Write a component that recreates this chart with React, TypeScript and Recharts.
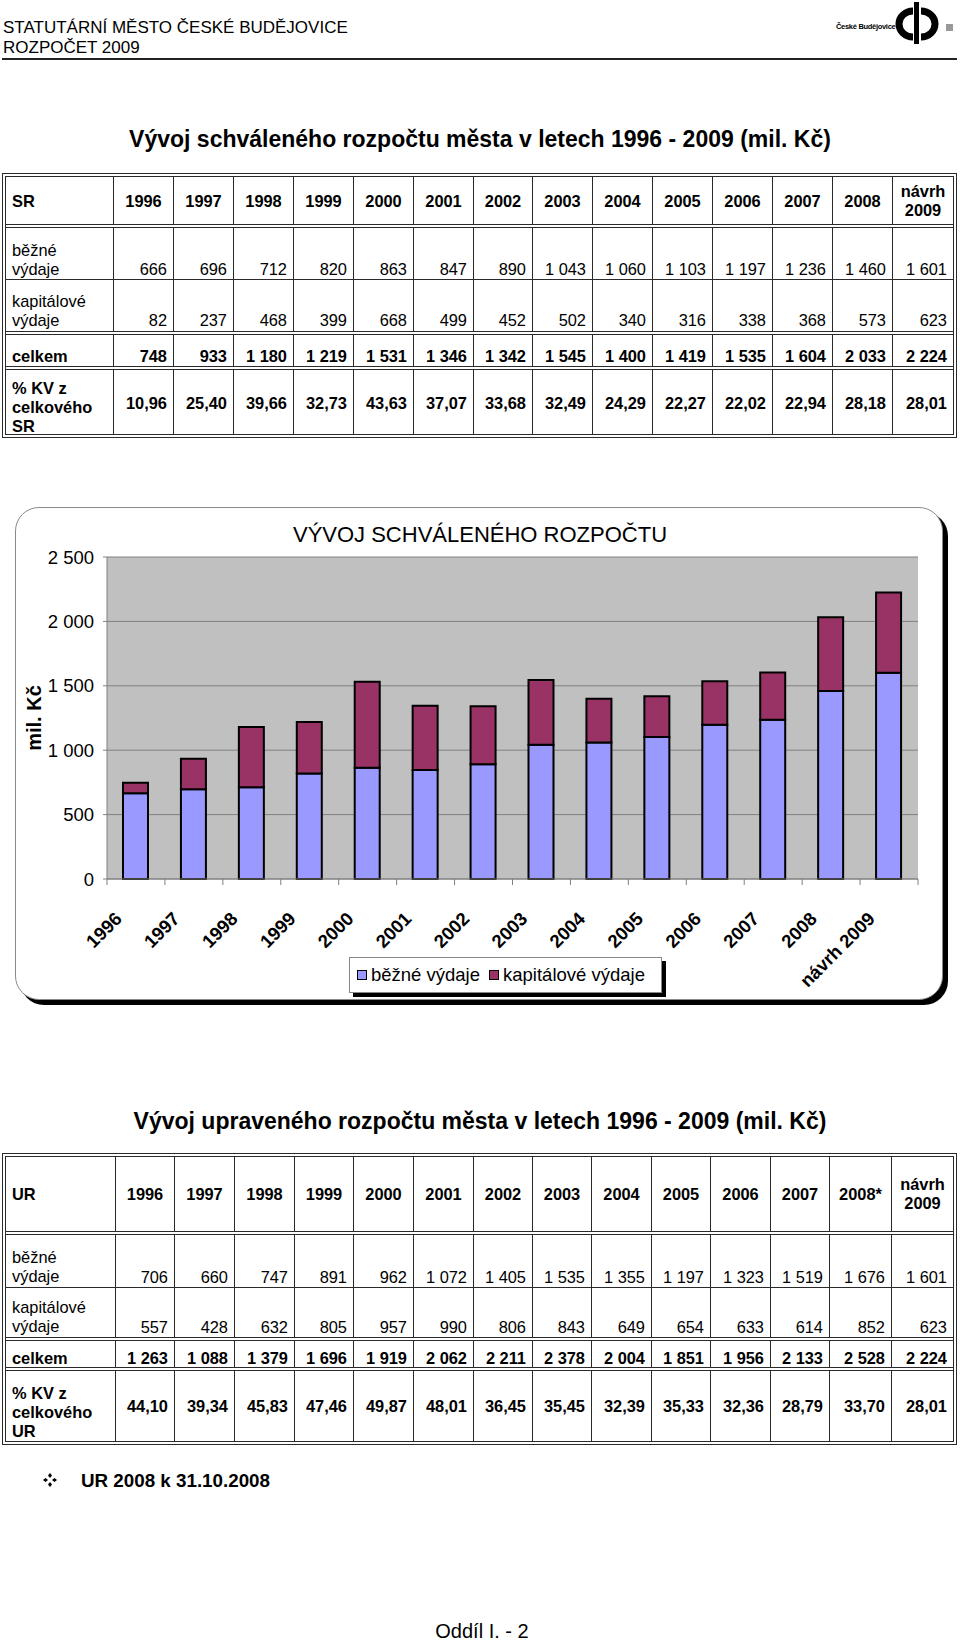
import React from 'react';
import { BarChart, Bar, XAxis, YAxis, CartesianGrid, Legend } from 'recharts';

const FONT = '"Liberation Sans", Arial, Helvetica, sans-serif';

// ---------- data ----------
const chartYears = ['1996', '1997', '1998', '1999', '2000', '2001', '2002', '2003', '2004', '2005', '2006', '2007', '2008', 'návrh 2009'];
const srBezne = [666, 696, 712, 820, 863, 847, 890, 1043, 1060, 1103, 1197, 1236, 1460, 1601];
const srKap = [82, 237, 468, 399, 668, 499, 452, 502, 340, 316, 338, 368, 573, 623];
const srCelkem = [748, 933, 1180, 1219, 1531, 1346, 1342, 1545, 1400, 1419, 1535, 1604, 2033, 2224];
const srPct = ['10,96', '25,40', '39,66', '32,73', '43,63', '37,07', '33,68', '32,49', '24,29', '22,27', '22,02', '22,94', '28,18', '28,01'];
const srHeaders = ['1996', '1997', '1998', '1999', '2000', '2001', '2002', '2003', '2004', '2005', '2006', '2007', '2008', 'návrh\n2009'];

const urBezne = [706, 660, 747, 891, 962, 1072, 1405, 1535, 1355, 1197, 1323, 1519, 1676, 1601];
const urKap = [557, 428, 632, 805, 957, 990, 806, 843, 649, 654, 633, 614, 852, 623];
const urCelkem = [1263, 1088, 1379, 1696, 1919, 2062, 2211, 2378, 2004, 1851, 1956, 2133, 2528, 2224];
const urPct = ['44,10', '39,34', '45,83', '47,46', '49,87', '48,01', '36,45', '35,45', '32,39', '35,33', '32,36', '28,79', '33,70', '28,01'];
const urHeaders = ['1996', '1997', '1998', '1999', '2000', '2001', '2002', '2003', '2004', '2005', '2006', '2007', '2008*', 'návrh\n2009'];

const yTicks = [0, 500, 1000, 1500, 2000, 2500];
const seriesNames = ['běžné výdaje', 'kapitálové výdaje'];

const fmt = (n: number) => String(n).replace(/\B(?=(\d{3})+(?!\d))/g, ' ');

const chartData = chartYears.map((year, i) => ({ year, bezne: srBezne[i], kap: srKap[i] }));

// ---------- helpers ----------
const LINE = '#2a2a2a';
const TFS = 16.4;
const TLH = 19;

function T(props: { x0: number; x1: number; cy: number; text: string; align: 'left' | 'right' | 'center'; bold?: boolean; size?: number; lh?: number }) {
  const lines = props.text.split('\n');
  const lh = props.lh ?? TLH;
  const h = lines.length * lh;
  return (
    <div
      style={{
        position: 'absolute',
        left: props.x0,
        width: props.x1 - props.x0,
        top: props.cy - h / 2,
        height: h,
        lineHeight: lh + 'px',
        fontSize: props.size ?? TFS,
        fontWeight: props.bold ? 700 : 400,
        textAlign: props.align,
        whiteSpace: 'pre',
        fontFamily: FONT,
        color: '#000',
      }}
    >
      {props.text}
    </div>
  );
}

type TblProps = {
  top: number;
  bottom: number;
  cols: number[];
  seps: { y: number; dbl: boolean }[];
  label: string;
  headers: string[];
  bezne: number[];
  kap: number[];
  celkem: number[];
  pct: string[];
  cy: { head: number; b: number; bv: number; k: number; kv: number; c: number; p: number; pv: number };
};

function DataTable(p: TblProps) {
  const L = 2, R = 957, inL = 6, inR = 953;
  const els: React.ReactNode[] = [];
  p.cols.forEach((x, i) =>
    els.push(
      <div key={'v' + i} style={{ position: 'absolute', left: x, top: p.top + 3, width: 1, height: p.bottom - p.top - 6, background: LINE }} />
    )
  );
  p.seps.forEach((s, i) =>
    els.push(
      s.dbl ? (
        <div
          key={'s' + i}
          style={{ position: 'absolute', left: inL, width: inR - inL, top: s.y, height: 4, borderTop: '1px solid ' + LINE, borderBottom: '1px solid ' + LINE, background: '#fff', boxSizing: 'border-box' }}
        />
      ) : (
        <div key={'s' + i} style={{ position: 'absolute', left: inL, width: inR - inL, top: s.y, height: 1, background: LINE }} />
      )
    )
  );
  els.push(
    <div key="outer" style={{ position: 'absolute', left: L, top: p.top, width: R - L, height: p.bottom - p.top, border: '4px double ' + LINE, boxSizing: 'border-box' }} />
  );
  const lx0 = inL + 6, lx1 = p.cols[0];
  els.push(<T key="lh" x0={lx0} x1={lx1} cy={p.cy.head} text={p.label} align="left" bold />);
  els.push(<T key="lb" x0={lx0} x1={lx1} cy={p.cy.b} text={'běžné\nvýdaje'} align="left" />);
  els.push(<T key="lk" x0={lx0} x1={lx1} cy={p.cy.k} text={'kapitálové\nvýdaje'} align="left" />);
  els.push(<T key="lc" x0={lx0} x1={lx1} cy={p.cy.c} text="celkem" align="left" bold />);
  els.push(<T key="lp" x0={lx0} x1={lx1 + 10} cy={p.cy.p} text={'% KV z\ncelkového\n' + p.label} align="left" bold />);
  p.headers.forEach((h, i) => {
    const c0 = p.cols[i] + 1;
    const c1 = i < p.cols.length - 1 ? p.cols[i + 1] : inR;
    els.push(<T key={'h' + i} x0={c0} x1={c1} cy={p.cy.head} text={h} align="center" bold />);
    els.push(<T key={'b' + i} x0={c0} x1={c1 - 6} cy={p.cy.bv} text={fmt(p.bezne[i])} align="right" />);
    els.push(<T key={'k' + i} x0={c0} x1={c1 - 6} cy={p.cy.kv} text={fmt(p.kap[i])} align="right" />);
    els.push(<T key={'c' + i} x0={c0} x1={c1 - 6} cy={p.cy.c} text={fmt(p.celkem[i])} align="right" bold />);
    els.push(<T key={'p' + i} x0={c0} x1={c1 - 6} cy={p.cy.pv} text={p.pct[i]} align="right" bold />);
  });
  return <>{els}</>;
}

// ---------- chart parts ----------
const XTick = (props: any) => {
  const { x, y, payload, index, width, visibleTicksCount } = props;
  const n = visibleTicksCount || chartYears.length;
  const bw = width ? width / n : 57.93;
  const tx = x - 13;
  const ty = y + 41;
  return (
    <g>
      <line x1={x - bw / 2} x2={x - bw / 2} y1={y} y2={y + 6} stroke="#808080" />
      {index === n - 1 && <line x1={x + bw / 2} x2={x + bw / 2} y1={y} y2={y + 6} stroke="#808080" />}
      <text x={tx} y={ty} textAnchor="end" transform={`rotate(-45 ${tx} ${ty})`} fontSize={18.5} fontWeight={700} fontFamily={FONT} fill="#000">
        {payload.value}
      </text>
    </g>
  );
};

const YLabel = (props: any) => {
  const vb = props.viewBox || {};
  const cx = 19;
  const cy = vb.y != null && vb.height != null ? vb.y + vb.height / 2 : 211;
  return (
    <text x={cx} y={cy} transform={`rotate(-90 ${cx} ${cy})`} textAnchor="middle" dominantBaseline="central" fontSize={20} fontWeight={700} fontFamily={FONT} fill="#000">
      mil. Kč
    </text>
  );
};

const LegendBox = (props: any) => {
  const payload = props.payload || [];
  return (
    <div
      style={{
        border: '1px solid #888',
        background: '#fff',
        boxShadow: '4px 4px 0 #000',
        height: 36,
        width: 313,
        boxSizing: 'border-box',
        display: 'flex',
        alignItems: 'center',
        paddingLeft: 7,
        fontFamily: FONT,
        fontSize: 18.5,
        whiteSpace: 'nowrap',
        color: '#000',
      }}
    >
      {payload.map((e: any, i: number) => (
        <span key={i} style={{ display: 'inline-flex', alignItems: 'center', marginRight: 9 }}>
          <span style={{ display: 'inline-block', width: 10, height: 10, border: '1px solid #000', background: e.color, marginRight: 4, boxSizing: 'border-box' }} />
          {e.value}
        </span>
      ))}
    </div>
  );
};

export default function App() {
  return (
    <div style={{ position: 'absolute', left: 0, top: 0, width: 960, height: 1641, overflow: 'hidden', background: '#fff', fontFamily: FONT, color: '#000' }}>
      {/* page header */}
      <T x0={3} x1={500} cy={28} text="STATUTÁRNÍ MĚSTO ČESKÉ BUDĚJOVICE" align="left" size={17} lh={20} />
      <T x0={3} x1={500} cy={48} text="ROZPOČET 2009" align="left" size={17} lh={20} />
      <div style={{ position: 'absolute', left: 2, top: 58, width: 955, height: 2, background: '#222' }} />
      <div style={{ position: 'absolute', left: 836, top: 21, width: 62, fontSize: 7.5, fontWeight: 700, letterSpacing: -0.3, whiteSpace: 'nowrap', lineHeight: '12px' }}>České Budějovice</div>
      <svg style={{ position: 'absolute', left: 895, top: 0 }} width={65} height={50}>
        <path d="M 18 11 A 14 13 0 0 0 18 37" fill="none" stroke="#000" strokeWidth={7} />
        <path d="M 26 11 A 14 13 0 0 1 26 37" fill="none" stroke="#000" strokeWidth={7} />
        <rect x={19} y={2} width={5} height={42} fill="#000" />
        <rect x={51} y={24} width={7} height={7} fill="#999" />
      </svg>

      {/* title 1 */}
      <T x0={0} x1={960} cy={139} text="Vývoj schváleného rozpočtu města v letech 1996 - 2009 (mil. Kč)" align="center" bold size={23} lh={26} />
      <DataTable
        top={173}
        bottom={438}
        cols={[113, 173, 233, 293, 353, 413, 473, 532, 592, 652, 712, 772, 832, 892]}
        seps={[{ y: 224, dbl: true }, { y: 279, dbl: false }, { y: 331, dbl: true }, { y: 366, dbl: true }]}
        label="SR"
        headers={srHeaders}
        bezne={srBezne}
        kap={srKap}
        celkem={srCelkem}
        pct={srPct}
        cy={{ head: 201, b: 259.5, bv: 269, k: 310.5, kv: 320, c: 356, p: 407, pv: 403 }}
      />

      {/* chart */}
      <div style={{ position: 'absolute', left: 15, top: 507, width: 928, height: 493, border: '1px solid #8a8a8a', borderRadius: 24, boxShadow: '5px 5px 0 #000', background: '#fff', boxSizing: 'border-box' }} />
      <div style={{ position: 'absolute', left: 15, top: 507, width: 928, height: 493 }}>
        <BarChart width={928} height={493} data={chartData} margin={{ top: 50, right: 25, left: 0, bottom: 0 }} barSize={25}>
          <CartesianGrid vertical={false} fill="#C0C0C0" stroke="#808080" fillOpacity={1} />
          <XAxis dataKey="year" height={121} tickSize={0} tickMargin={0} interval={0} axisLine={{ stroke: '#808080' }} tickLine={false} tick={<XTick />} />
          <YAxis
            width={92}
            domain={[0, 2500]}
            ticks={yTicks}
            tickFormatter={fmt}
            tickSize={4}
            tickMargin={9}
            axisLine={{ stroke: '#808080' }}
            tickLine={{ stroke: '#808080' }}
            tick={{ fontSize: 18.5, fill: '#000', fontFamily: FONT }}
            label={YLabel}
          />
          <Bar dataKey="bezne" name={seriesNames[0]} stackId="a" fill="#9999FF" stroke="#000" strokeWidth={2} isAnimationActive={false} />
          <Bar dataKey="kap" name={seriesNames[1]} stackId="a" fill="#993366" stroke="#000" strokeWidth={2} isAnimationActive={false} />
          <Legend layout="horizontal" verticalAlign="middle" align="center" wrapperStyle={{ left: 334, top: 450, width: 313, height: 36 }} content={LegendBox} />
        </BarChart>
      </div>
      <T x0={0} x1={960} cy={535} text="VÝVOJ SCHVÁLENÉHO ROZPOČTU" align="center" size={22} lh={26} />

      {/* title 2 */}
      <T x0={0} x1={960} cy={1121} text="Vývoj upraveného rozpočtu města v letech 1996 - 2009 (mil. Kč)" align="center" bold size={23} lh={26} />
      <DataTable
        top={1153}
        bottom={1445}
        cols={[115, 174, 234, 294, 353, 413, 473, 532, 591, 651, 710, 770, 829, 891]}
        seps={[{ y: 1231, dbl: true }, { y: 1287, dbl: false }, { y: 1337, dbl: true }, { y: 1367, dbl: true }]}
        label="UR"
        headers={urHeaders}
        bezne={urBezne}
        kap={urKap}
        celkem={urCelkem}
        pct={urPct}
        cy={{ head: 1194, b: 1267, bv: 1277, k: 1317, kv: 1327, c: 1358, p: 1412, pv: 1406 }}
      />

      {/* footnote */}
      <svg style={{ position: 'absolute', left: 43, top: 1473 }} width={14} height={14}>
        <path d="M7 0 L9 2.5 L7 5 L5 2.5 Z" fill="#000" />
        <path d="M7 9 L9 11.5 L7 14 L5 11.5 Z" fill="#000" />
        <path d="M0 7 L2.5 5 L5 7 L2.5 9 Z" fill="#000" />
        <path d="M9 7 L11.5 5 L14 7 L11.5 9 Z" fill="#000" />
      </svg>
      <T x0={81} x1={400} cy={1481} text="UR 2008 k 31.10.2008" align="left" bold size={18.8} lh={22} />

      {/* footer */}
      <T x0={0} x1={964} cy={1631} text="Oddíl I. - 2" align="center" size={20} lh={22} />
    </div>
  );
}
